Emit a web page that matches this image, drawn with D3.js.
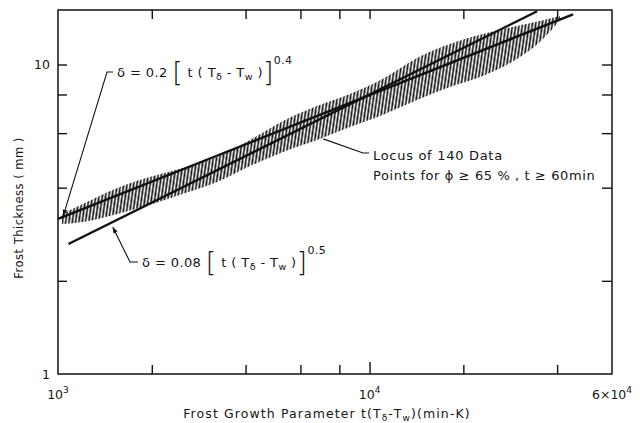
<!DOCTYPE html>
<html><head><meta charset="utf-8">
<script src="https://cdn.jsdelivr.net/npm/d3@7"></script>
<style>
body{margin:0;background:#fff;}
svg{display:block;}
text{font-family:"DejaVu Sans",sans-serif;fill:#151515;}
</style></head><body>
<svg id="chart" width="640" height="423"></svg>
<script>
// ---- data ----
const xTicks = [2000, 4000, 6000, 8000, 10000, 20000, 40000];
const yTicks = [2, 4, 6, 8, 10];
const xTickLabels = [{v: 1000, base: "10", exp: "3"}, {v: 10000, base: "10", exp: "4"}, {v: 60000, base: "6×10", exp: "4"}];
const yTickLabels = [{v: 1, t: "1"}, {v: 10, t: "10"}];
// locus of the 140 data points (band)
const bandX     = [1030, 1200, 1550, 1970, 2520, 3240, 4130, 5280, 6780, 8650, 11000, 14200, 18100, 23100, 29700, 35200, 40800];
const bandUpper = [3.29, 3.54, 3.99, 4.33, 4.63, 5.02, 5.70, 6.57, 7.34, 8.03, 8.98, 10.50, 11.65, 12.55, 13.32, 13.82, 14.35];
const bandLower = [3.05, 3.10, 3.29, 3.52, 3.82, 4.17, 4.70, 5.22, 5.70, 6.28, 6.87, 7.68, 8.46, 9.18, 10.42, 11.82, 13.93];
// correlation lines (end points)
const line04X = [1000, 45000], line04Y = [3.17, 14.53];   // δ = 0.2 [t(Tδ-Tw)]^0.4
const line05X = [1080, 34500], line05Y = [2.63, 14.86];   // δ = 0.08 [t(Tδ-Tw)]^0.5

// ---- layout ----
const svg = d3.select("#chart");
const L = 58, R = 612, T = 10, B = 374;
const x = d3.scaleLog().domain([1000, 60000]).range([L, R]);
const y = d3.scaleLog().domain([1, 15]).range([B, T]);

// hatch pattern
const defs = svg.append("defs");
const pat = defs.append("pattern").attr("id", "hatch").attr("patternUnits", "userSpaceOnUse")
  .attr("width", 3.3).attr("height", 12).attr("patternTransform", "skewX(-8)");
pat.append("line").attr("x1", 1.2).attr("x2", 1.2).attr("y1", -2).attr("y2", 14)
  .attr("stroke", "#111").attr("stroke-width", 1.7);
defs.append("marker").attr("id", "arr").attr("viewBox", "0 0 10 10").attr("refX", 9).attr("refY", 5)
  .attr("markerWidth", 6).attr("markerHeight", 6).attr("orient", "auto-start-reverse")
  .append("path").attr("d", "M0,1.5 L10,5 L0,8.5 z").attr("fill", "#111");

// band
const bandData = bandX.map((v, i) => ({x: v, lo: bandLower[i], hi: bandUpper[i]}));
svg.append("path").datum(bandData)
  .attr("d", d3.area().x(d => x(d.x)).y0(d => y(d.lo)).y1(d => y(d.hi)).curve(d3.curveMonotoneX))
  .attr("fill", "url(#hatch)");

// correlation lines
const ln = d3.line().x(d => x(d[0])).y(d => y(d[1]));
svg.append("path").attr("d", ln(line04X.map((v, i) => [v, line04Y[i]])))
  .attr("stroke", "#111").attr("stroke-width", 2.4).attr("fill", "none");
svg.append("path").attr("d", ln(line05X.map((v, i) => [v, line05Y[i]])))
  .attr("stroke", "#111").attr("stroke-width", 2.4).attr("fill", "none");

// frame
svg.append("rect").attr("x", L).attr("y", T).attr("width", R - L).attr("height", B - T)
  .attr("fill", "none").attr("stroke", "#111").attr("stroke-width", 1.5);

// ticks via axes (inward)
const tk = d => d === 10000 ? 12 : 9;
const gB = svg.append("g").attr("transform", `translate(0,${B})`)
  .call(d3.axisTop(x).tickValues(xTicks).tickSize(9).tickFormat(""));
const gT = svg.append("g").attr("transform", `translate(0,${T})`)
  .call(d3.axisBottom(x).tickValues(xTicks).tickSize(9).tickFormat(""));
const gL = svg.append("g").attr("transform", `translate(${L},0)`)
  .call(d3.axisRight(y).tickValues(yTicks).tickSize(9).tickFormat(""));
const gR = svg.append("g").attr("transform", `translate(${R},0)`)
  .call(d3.axisLeft(y).tickValues(yTicks).tickSize(10).tickFormat(""));
[gB, gT, gL, gR].forEach(g => {
  g.select(".domain").remove();
  g.selectAll(".tick line").attr("stroke", "#111").attr("stroke-width", 1.4);
});
gB.selectAll(".tick line").attr("y2", d => -tk(d));

// tick labels
xTickLabels.forEach(d => {
  const t = svg.append("text").attr("x", x(d.v)).attr("y", 399).attr("text-anchor", "middle")
    .style("font-size", "12.5px");
  t.append("tspan").text(d.base);
  t.append("tspan").attr("dy", -6).style("font-size", "9px").text(d.exp);
});
yTickLabels.forEach(d => {
  svg.append("text").attr("x", 50).attr("y", y(d.v) + 4.5).attr("text-anchor", "end")
    .style("font-size", "12.5px").text(d.t);
});

// axis titles
const xt = svg.append("text").attr("x", 327).attr("y", 418).attr("text-anchor", "middle")
  .style("font-size", "12.5px").style("letter-spacing", "1.1px");
xt.append("tspan").text("Frost Growth Parameter  t(T");
xt.append("tspan").attr("dy", 3).style("font-size", "9px").text("δ");
xt.append("tspan").attr("dy", -3).text("-T");
xt.append("tspan").attr("dy", 3).style("font-size", "9px").text("w");
xt.append("tspan").attr("dy", -3).text(")(min-K)");

svg.append("text").attr("transform", "translate(23,208) rotate(-90)").attr("text-anchor", "middle")
  .style("font-size", "11.5px").style("letter-spacing", "0.5px").text("Frost Thickness  ( mm )");

// formula annotation helper
function formula(x0, yb, coef, expo) {
  const t = svg.append("text").attr("x", x0).attr("y", yb).style("font-size", "13px").style("letter-spacing", "0.4px");
  t.append("tspan").text(`δ = ${coef} `);
  t.append("tspan").attr("dy", 4).style("font-size", "27px").style("font-weight", "200").text("[");
  t.append("tspan").attr("dy", -4).text(" t ( T");
  t.append("tspan").attr("dy", 3).style("font-size", "9.5px").text("δ");
  t.append("tspan").attr("dy", -3).text(" - T");
  t.append("tspan").attr("dy", 3).style("font-size", "9.5px").text("w");
  t.append("tspan").attr("dy", -3).text(" )");
  t.append("tspan").attr("dy", 4).style("font-size", "27px").style("font-weight", "200").text("]");
  t.append("tspan").attr("dy", -17).style("font-size", "11px").text(expo);
}
formula(117, 77, "0.2", "0.4");
formula(142, 267, "0.08", "0.5");

// leaders
const lead = d3.line();
svg.append("path").attr("d", lead([[113, 72], [107, 72], [x(1040), y(3.25)]]))
  .attr("stroke", "#111").attr("stroke-width", 1.1).attr("fill", "none").attr("marker-end", "url(#arr)");
svg.append("path").attr("d", lead([[138, 262], [130, 262], [x(1500), y(2.98)]]))
  .attr("stroke", "#111").attr("stroke-width", 1.1).attr("fill", "none").attr("marker-end", "url(#arr)");
svg.append("path").attr("d", lead([[369, 153], [363, 153], [x(7100), y(5.75)]]))
  .attr("stroke", "#111").attr("stroke-width", 1.1).attr("fill", "none");

// locus text
svg.append("text").attr("x", 373).attr("y", 160).style("font-size", "13px").style("letter-spacing", "0.7px")
  .text("Locus of 140 Data");
svg.append("text").attr("x", 373).attr("y", 180).style("font-size", "13px").style("letter-spacing", "0.6px")
  .text("Points for ϕ ≥ 65 % , t ≥ 60min");
</script>
</body></html>
